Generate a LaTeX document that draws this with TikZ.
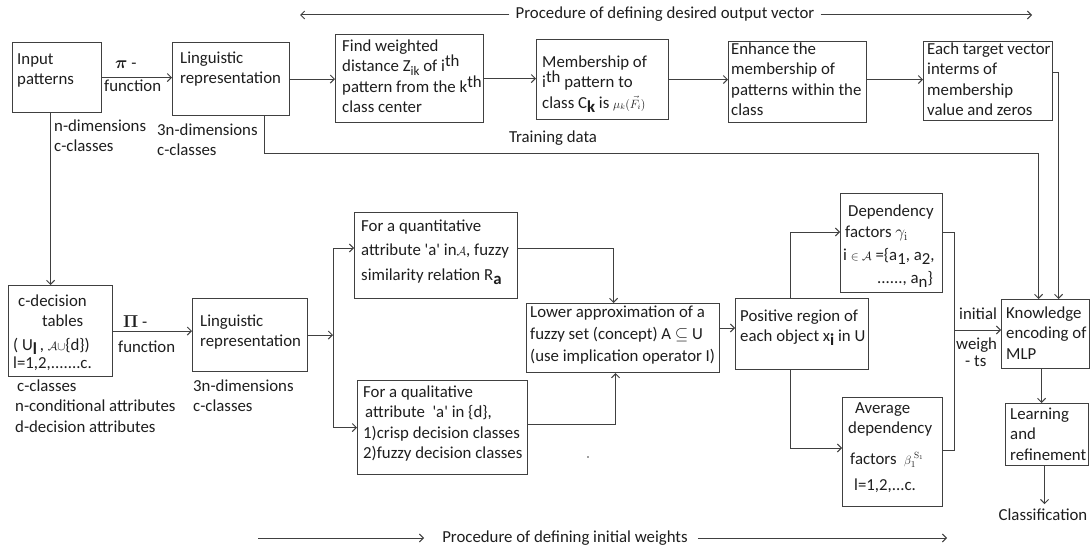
\documentclass[tikz,border=0pt]{standalone}
\usepackage{amsmath,amssymb}
\usepackage[no-math]{fontspec}
\setmainfont{Carlito}
\usetikzlibrary{arrows.meta}
\definecolor{linec}{HTML}{404040}
\definecolor{txtc}{HTML}{1E1E1E}
\newcommand\lowr[1]{\smash{\raisebox{-4pt}{#1}}}
\newcommand\highr[1]{\smash{\raisebox{5pt}{#1}}}
\newcommand\fsz{\fontsize{16.8}{20.5}\selectfont}
\newcommand\ssz{\fontsize{13}{13}\selectfont}
\tikzset{
  box/.style={draw=linec, line width=1.1pt, inner sep=0pt, anchor=north west},
  txt/.style={text=txtc, inner sep=0pt, anchor=base west, align=left, font=\fsz},
  arr/.style={draw=linec, line width=1pt, -{Straight Barb[length=4pt,width=8pt]}},
  ln/.style={draw=linec, line width=1pt},
}
\begin{document}
\begin{tikzpicture}[x=1pt,y=-1pt]
\useasboundingbox (0,0) rectangle (1092,551);
\fill[white] (0,0) rectangle (1092,551);
% boxes
\node[box, minimum width=89pt,  minimum height=70pt] (inp)   at (12,42) {};
\node[box, minimum width=117pt, minimum height=73pt] (ling1) at (172,42) {};
\node[box, minimum width=148pt, minimum height=88pt] (find)  at (335,34) {};
\node[box, minimum width=132pt, minimum height=80pt] (memb)  at (536,39) {};
\node[box, minimum width=138pt, minimum height=81pt] (enh)   at (728,41) {};
\node[box, minimum width=129pt, minimum height=79pt] (each)  at (923,41) {};
\node[box, minimum width=104pt, minimum height=91pt] (cdec)  at (8,285) {};
\node[box, minimum width=115pt, minimum height=73pt] (ling2) at (192,298) {};
\node[box, minimum width=163pt, minimum height=86pt] (quant) at (354,212) {};
\node[box, minimum width=193pt, minimum height=69pt] (lower) at (526,303) {};
\node[box, minimum width=170pt, minimum height=94pt] (qual)  at (357,380) {};
\node[box, minimum width=133pt, minimum height=71pt] (pos)   at (735,298) {};
\node[box, minimum width=102pt, minimum height=99pt] (dep)   at (840,193) {};
\node[box, minimum width=100pt, minimum height=109pt] (avg)  at (842,397) {};
\node[box, minimum width=88pt,  minimum height=69pt] (know)  at (1001,299) {};
\node[box, minimum width=83pt,  minimum height=62pt] (learn) at (1005,403) {};
% texts (anchor = baseline of the LAST line)
\node[txt] (tinp) at (17,84.5) {Input\\patterns};
\node[txt] (tpi1) at (115,69) {$\boldsymbol{\pi}$ -};
\node[txt] (tfn1) at (104,92) {function};
\node[txt] (tling1) at (180,83.5) {Linguistic\\representation};
\node[txt] (tnd) at (54,151.5) {n-dimensions\\c-classes};
\node[txt] (t3n1) at (157,155.5) {3n-dimensions\\c-classes};
\node[txt] (tfind) at (342,112.5) {Find weighted\\distance Z\lowr{\ssz ik} of i\highr{th}\\pattern from the k\highr{th}\\class center};
\node[txt] (tmemb) at (542,108) {Membership of\\i\highr{th} pattern to\\class C\lowr{\textbf{k}} is {\fontsize{12}{12}\selectfont$\mu_{k}(\vec{F}_{i})$}};
\node[txt] (tenh) at (731,115.5) {Enhance the\\membership of\\patterns within the\\class};
\node[txt] (teach) at (927,115.5) {Each target vector\\interms of\\membership\\value and zeros};
\node[txt, anchor=base] (ttrain) at (553,142) {Training data};
\node[txt, anchor=base] (ttop) at (665,19) {Procedure of defining desired output vector};
\node[txt] (tcdec) at (13,368.5) {\hspace*{5pt}c-decision\\\hspace*{29pt}tables\\[3pt]( U\lowr{\textbf{l}}\,, {\ssz$\mathcal{A}\cup$}\{d\})\\[-2pt]l=1,2,.......c.};
\node[txt] (tpi2) at (123,327) {$\mathbf{\Pi}$ -};
\node[txt] (tfn2) at (118,352) {function};
\node[txt] (tling2) at (200,346.5) {Linguistic\\representation};
\node[txt] (tcc) at (15,432) {\hspace*{2pt}c-classes\\n-conditional attributes\\d-decision attributes};
\node[txt] (t3n2) at (193,411.5) {3n-dimensions\\c-classes};
\node[txt] (tquant) at (361,280) {For a quantitative\\[4pt]attribute \textquotesingle a\textquotesingle{} in{\ssz$\mathcal{A}$}, fuzzy\\[4pt]similarity relation R\lowr{\textbf{a}}};
\node[txt] (tlower) at (530,361) {Lower approximation of a\\[1.5pt]fuzzy set (concept) A $\subseteq$ U\\[1.5pt](use implication operator I)};
\node[txt] (tqual) at (363,458.5) {For a qualitative\\\hspace*{2pt}attribute~ \textquotesingle a\textquotesingle{} in \{d\},\\1)crisp decision classes\\2)fuzzy decision classes};
\node[txt] (tpos) at (740,341.5) {Positive region of\\each object x\lowr{\textbf{i}} in U};
\node[txt] (tdep) at (843,283.5) {\hspace*{5pt}Dependency\\[1pt]\hspace*{2pt}factors {$\gamma_{\mathrm{i}}$}\\[2pt]i {\ssz$\in\mathcal{A}$} =\{a\lowr{1}, a\lowr{2},\\[3pt]\hspace*{34pt}......, a\lowr{n}\}};
\node[txt] (tavg) at (848,490.5) {\hspace*{7pt}Average\\dependency\\[10pt]\hspace*{2pt}factors~ {\ssz$\beta_{1}^{\;\mathrm{S}_{1}}$}\\[6pt]\hspace*{6pt}l=1,2,...c.};
\node[txt] (tknow) at (1006,359) {Knowledge\\encoding of\\MLP};
\node[txt] (tlearn) at (1010,460) {Learning\\and\\refinement};
\node[txt, anchor=base] (tcls) at (1043,520) {Classification};
\node[txt] (tinit) at (959,319) {initial};
\node[txt] (tweigh) at (956,366.5) {weigh\\[-3pt]\hspace*{9pt}- ts};
\node[txt, anchor=base] (tbot) at (565,542) {Procedure of defining initial weights};
% connectors top row
\draw[arr] (inp.east) -- (inp.east -| ling1.west);
\draw[arr] (ling1.east) -- (ling1.east -| find.west);
\draw[arr] (find.east) -- (find.east -| memb.west);
\draw[arr] (memb.east) -- (memb.east -| enh.west);
\draw[arr] (enh.east |- memb.east) -- (memb.east -| each.west);
\draw[arr] (each.east |- 0,73) -| ([xshift=13pt]know.north);
\draw[arr] ([xshift=33.5pt]ling1.south) -- ++(0,37) -| ([xshift=-7pt]know.north);
% left / bottom
\draw[arr] ([xshift=-6.5pt]inp.south) -- ([xshift=-6.5pt]inp.south |- cdec.north);
\draw[arr] (cdec.east) -- (cdec.east -| ling2.west);
\coordinate (sp) at (333,333);
\draw[arr] (ling2.east) -- (ling2.east -| sp);
\draw[ln] (sp |- 0,248) -- (sp |- qual.west);
\draw[arr] (sp |- 0,248) -- (quant.west |- 0,248);
\draw[arr] (sp |- qual.west) -- (qual.west);
\draw[arr] (quant.east |- 0,248) -| ([xshift=-9.5pt]lower.north);
\draw[arr] (qual.east |- 0,424) -| ([xshift=-7.5pt]lower.south);
\draw[arr] (lower.east |- 0,328) -- (pos.west |- 0,328);
\draw[arr] ([xshift=-11.5pt]pos.north) |- (dep.west |- 0,232);
\draw[arr] ([xshift=-11.5pt]pos.south) |- (avg.west |- 0,448);
\coordinate (brk) at (954,330);
\draw[ln] (dep.east |- 0,232) -| (brk) |- (avg.east |- 0,450);
\draw[arr] (brk) -- (brk -| know.west);
\draw[arr] ([xshift=-4pt]know.south) -- ([xshift=-4pt]know.south |- learn.north);
\draw[arr, shorten >=4pt] ([xshift=-2.5pt]learn.south) -- ([xshift=-2.5pt]learn.south |- tcls.north);
% procedure arrows
\coordinate (tl) at (300,15);
\coordinate (tr) at (1032,15);
\draw[arr] ([xshift=-6pt]ttop.west |- tl) -- (tl);
\draw[arr] ([xshift=6pt]ttop.east |- tr) -- (tr);
\coordinate (bl) at (258,538);
\coordinate (br) at (947,538);
\draw[arr] (bl) -- ([xshift=-18pt]tbot.west |- bl);
\draw[arr] ([xshift=10pt]tbot.east |- br) -- (br);
\fill[linec] (588,457) circle (0.8);
\end{tikzpicture}
\end{document}
